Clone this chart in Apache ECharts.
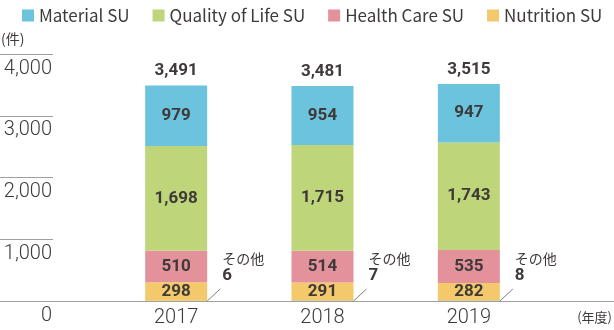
<!DOCTYPE html>
<html>
<head>
<meta charset="utf-8">
<script src="https://cdn.jsdelivr.net/npm/echarts@6/dist/echarts.min.js"></script>
<style>
html,body{margin:0;padding:0;background:#fff;}
#chart{width:614px;height:330px;}
</style>
</head>
<body>
<div id="chart"></div>
<script>
const categories = ['2017', '2018', '2019'];
const materialSU = [979, 954, 947];
const qualityOfLifeSU = [1698, 1715, 1743];
const healthCareSU = [510, 514, 535];
const nutritionSU = [298, 291, 282];
const others = [6, 7, 8];
const totals = [3491, 3481, 3515];
const yMin = 0, yMax = 4000, yStep = 1000;

const TXT = '#3e3a39';
const BAR_W = 62;
const fmt = v => Number(v).toLocaleString('en-US');
const numFont = 'Roboto';

function stackSeries(name, data, color) {
  return {
    name: name, type: 'bar', stack: 'total', data: data,
    xAxisIndex: 0, yAxisIndex: 0, barWidth: BAR_W,
    itemStyle: { color: color },
    label: {
      show: true, position: 'inside', color: TXT,
      fontSize: 17, fontWeight: 'bold', fontFamily: numFont,
      formatter: p => fmt(p.value)
    }
  };
}

const chart = echarts.init(document.getElementById('chart'), null, { renderer: 'canvas' });
const option = {
  animation: false,
  legend: {
    data: ['Material SU', 'Quality of Life SU', 'Health Care SU', 'Nutrition SU'],
    left: 17, top: 2, itemWidth: 12, itemHeight: 12, itemGap: 23, icon: 'rect',
    textStyle: { fontSize: 17, color: TXT, fontFamily: '"Noto Sans CJK JP"' }
  },
  grid: [
    { left: 103, right: 72, top: 54, bottom: 29 },
    { left: 0, right: 0, top: 54, bottom: 29 },
    { left: 0, width: 53, top: 54, bottom: 29 }
  ],
  xAxis: [
    { type: 'category', gridIndex: 0, data: categories,
      axisLine: { show: false }, axisTick: { show: false },
      axisLabel: { fontSize: 20, fontWeight: 300, fontFamily: numFont, color: TXT, margin: 7 } },
    { type: 'value', gridIndex: 1, min: 0, max: 1,
      axisLine: { show: true, onZero: false, lineStyle: { color: '#9fa0a0', width: 1 } },
      axisTick: { show: false }, axisLabel: { show: false }, splitLine: { show: false } },
    { type: 'value', gridIndex: 2, min: 0, max: 1, show: false }
  ],
  yAxis: [
    { type: 'value', gridIndex: 0, min: yMin, max: yMax, interval: yStep, show: false },
    { type: 'value', gridIndex: 1, min: yMin, max: yMax, interval: yStep, show: false },
    { type: 'value', gridIndex: 2, min: yMin, max: yMax, interval: yStep, position: 'right',
      axisLine: { show: false }, axisTick: { show: false },
      splitLine: { show: true, lineStyle: { color: '#a0a0a0', width: 1 } },
      axisLabel: { inside: true, margin: 1, fontSize: 20, fontWeight: 300, fontFamily: numFont,
        color: TXT, verticalAlign: 'top', lineHeight: 29, formatter: v => fmt(v) } }
  ],
  graphic: [
    { type: 'text', left: 1, top: 32, style: { text: '(件)', font: '14px "Noto Sans CJK JP"', fill: TXT } },
    { type: 'text', right: 2, top: 311, style: { text: '(年度)', font: '13px "Noto Sans CJK JP"', fill: TXT } }
  ],
  series: [
    {
      name: 'その他', type: 'bar', stack: 'total', data: others,
      xAxisIndex: 0, yAxisIndex: 0, barWidth: BAR_W,
      itemStyle: { color: '#9fa0a0' },
      label: {
        show: true, position: ['100%', 0], offset: [15, -16], align: 'left', verticalAlign: 'bottom',
        formatter: p => '{a|その他}\n{b|' + fmt(p.value) + '}',
        rich: {
          a: { fontSize: 14, lineHeight: 17, fontFamily: 'Noto Sans CJK JP', color: TXT },
          b: { fontSize: 17, lineHeight: 17, fontWeight: 'bold', fontFamily: numFont, color: TXT }
        }
      }
    },
    stackSeries('Nutrition SU', nutritionSU, '#f4c96b'),
    stackSeries('Health Care SU', healthCareSU, '#e3919b'),
    stackSeries('Quality of Life SU', qualityOfLifeSU, '#bed679'),
    stackSeries('Material SU', materialSU, '#6cc3dd'),
    {
      name: 'total', type: 'bar', data: totals, xAxisIndex: 0, yAxisIndex: 0,
      barWidth: BAR_W, barGap: '-100%', z: 1, silent: true,
      itemStyle: { color: 'rgba(0,0,0,0)' },
      label: {
        show: true, position: 'top', distance: 6, color: TXT,
        fontSize: 17, fontWeight: 'bold', fontFamily: numFont,
        formatter: p => fmt(p.value)
      }
    },
    {
      name: 'leader', type: 'custom', data: others.map((v, i) => [i, v]),
      xAxisIndex: 0, yAxisIndex: 0, silent: true, z: 3,
      renderItem: function (params, api) {
        const base = api.coord([api.value(0), 0]);
        const x0 = base[0] + BAR_W / 2;
        return {
          type: 'line',
          shape: { x1: x0, y1: base[1], x2: x0 + 13, y2: base[1] - 12 },
          style: { stroke: '#7d7d7d', lineWidth: 1 }
        };
      }
    }
  ]
};
chart.setOption(option);
</script>
</body>
</html>
